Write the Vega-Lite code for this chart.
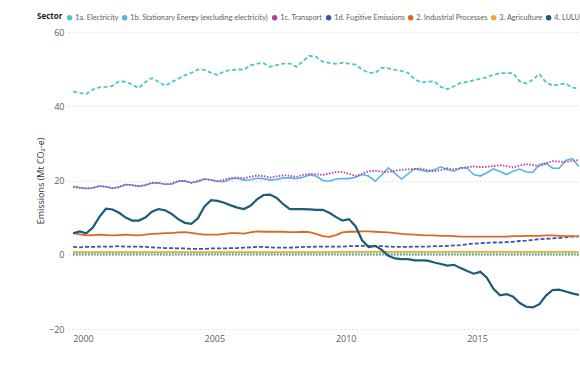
{
  "$schema": "https://vega.github.io/schema/vega-lite/v6.json",
  "width": 512,
  "height": 297,
  "autosize": "none",
  "padding": {"left": 68, "top": 32, "right": 0, "bottom": 37},
  "background": "white",
  "config": {"font": "Open Sans", "view": {"stroke": null}},
  "datasets": {
    "elec": [
      {"t":1999.625,"v":44.0},{"t":1999.875,"v":43.6},{"t":2000.125,"v":43.3},{"t":2000.375,"v":44.5},{"t":2000.625,"v":45.1},{"t":2000.875,"v":45.2},{"t":2001.125,"v":45.5},{"t":2001.375,"v":46.7},{"t":2001.625,"v":46.6},{"t":2001.875,"v":45.8},
      {"t":2002.125,"v":44.9},{"t":2002.375,"v":46.5},{"t":2002.625,"v":47.6},{"t":2002.875,"v":46.6},{"t":2003.125,"v":45.5},{"t":2003.375,"v":46.5},{"t":2003.625,"v":47.4},{"t":2003.875,"v":48.3},{"t":2004.125,"v":49.0},{"t":2004.375,"v":49.9},
      {"t":2004.625,"v":49.8},{"t":2004.875,"v":49.0},{"t":2005.125,"v":48.4},{"t":2005.375,"v":49.4},{"t":2005.625,"v":49.8},{"t":2005.875,"v":49.9},{"t":2006.125,"v":49.9},{"t":2006.375,"v":51.0},{"t":2006.625,"v":51.5},{"t":2006.875,"v":51.6},
      {"t":2007.125,"v":50.6},{"t":2007.375,"v":51.1},{"t":2007.625,"v":51.5},{"t":2007.875,"v":51.5},{"t":2008.125,"v":50.6},{"t":2008.375,"v":52.2},{"t":2008.625,"v":53.6},{"t":2008.875,"v":53.3},{"t":2009.125,"v":52.0},{"t":2009.375,"v":51.7},
      {"t":2009.625,"v":51.4},{"t":2009.875,"v":51.7},{"t":2010.125,"v":51.5},{"t":2010.375,"v":51.2},{"t":2010.625,"v":49.9},{"t":2010.875,"v":49.0},{"t":2011.125,"v":49.0},{"t":2011.375,"v":50.4},{"t":2011.625,"v":50.2},{"t":2011.875,"v":49.8},
      {"t":2012.125,"v":49.5},{"t":2012.375,"v":49.0},{"t":2012.625,"v":47.3},{"t":2012.875,"v":46.4},{"t":2013.125,"v":46.6},{"t":2013.375,"v":46.7},{"t":2013.625,"v":45.2},{"t":2013.875,"v":44.6},{"t":2014.125,"v":45.4},{"t":2014.375,"v":46.3},
      {"t":2014.625,"v":46.6},{"t":2014.875,"v":47.0},{"t":2015.125,"v":47.4},{"t":2015.375,"v":47.8},{"t":2015.625,"v":48.5},{"t":2015.875,"v":48.9},{"t":2016.125,"v":48.9},{"t":2016.375,"v":48.9},{"t":2016.625,"v":46.7},{"t":2016.875,"v":46.1},
      {"t":2017.125,"v":47.2},{"t":2017.375,"v":48.7},{"t":2017.625,"v":46.4},{"t":2017.875,"v":45.6},{"t":2018.125,"v":45.9},{"t":2018.375,"v":46.1},{"t":2018.625,"v":45.0},{"t":2018.875,"v":44.8}
    ],
    "stat": [
      {"t":1999.625,"v":18.4},{"t":1999.875,"v":18.1},{"t":2000.125,"v":17.9},{"t":2000.375,"v":18.0},{"t":2000.625,"v":18.5},{"t":2000.875,"v":18.3},{"t":2001.125,"v":17.9},{"t":2001.375,"v":18.2},{"t":2001.625,"v":18.9},{"t":2001.875,"v":18.8},
      {"t":2002.125,"v":18.5},{"t":2002.375,"v":18.7},{"t":2002.625,"v":19.3},{"t":2002.875,"v":19.4},{"t":2003.125,"v":19.0},{"t":2003.375,"v":19.0},{"t":2003.625,"v":19.8},{"t":2003.875,"v":19.9},{"t":2004.125,"v":19.4},{"t":2004.375,"v":19.7},
      {"t":2004.625,"v":20.4},{"t":2004.875,"v":20.2},{"t":2005.125,"v":19.8},{"t":2005.375,"v":19.7},{"t":2005.625,"v":20.4},{"t":2005.875,"v":20.6},{"t":2006.125,"v":20.1},{"t":2006.375,"v":20.2},{"t":2006.625,"v":20.6},{"t":2006.875,"v":20.5},
      {"t":2007.125,"v":20.1},{"t":2007.375,"v":20.3},{"t":2007.625,"v":20.7},{"t":2007.875,"v":20.7},{"t":2008.125,"v":20.5},{"t":2008.375,"v":20.9},{"t":2008.625,"v":21.5},{"t":2008.875,"v":21.2},{"t":2009.125,"v":20.0},{"t":2009.375,"v":19.8},
      {"t":2009.625,"v":20.4},{"t":2009.875,"v":20.5},{"t":2010.125,"v":20.5},{"t":2010.375,"v":20.9},{"t":2010.625,"v":21.6},{"t":2010.875,"v":21.2},{"t":2011.125,"v":19.8},{"t":2011.375,"v":21.5},{"t":2011.625,"v":23.4},{"t":2011.875,"v":21.9},
      {"t":2012.125,"v":20.4},{"t":2012.375,"v":21.8},{"t":2012.625,"v":23.2},{"t":2012.875,"v":22.8},{"t":2013.125,"v":22.4},{"t":2013.375,"v":22.9},{"t":2013.625,"v":23.7},{"t":2013.875,"v":22.9},{"t":2014.125,"v":22.5},{"t":2014.375,"v":23.5},
      {"t":2014.625,"v":23.3},{"t":2014.875,"v":21.6},{"t":2015.125,"v":21.2},{"t":2015.375,"v":22.1},{"t":2015.625,"v":23.1},{"t":2015.875,"v":22.4},{"t":2016.125,"v":21.6},{"t":2016.375,"v":22.5},{"t":2016.625,"v":23.1},{"t":2016.875,"v":22.3},
      {"t":2017.125,"v":22.2},{"t":2017.375,"v":24.3},{"t":2017.625,"v":24.6},{"t":2017.875,"v":23.3},{"t":2018.125,"v":23.3},{"t":2018.375,"v":25.4},{"t":2018.625,"v":25.9},{"t":2018.875,"v":23.8}
    ],
    "trans": [
      {"t":1999.625,"v":18.3},{"t":1999.875,"v":18.0},{"t":2000.125,"v":17.8},{"t":2000.375,"v":18.0},{"t":2000.625,"v":18.5},{"t":2000.875,"v":18.3},{"t":2001.125,"v":17.9},{"t":2001.375,"v":18.3},{"t":2001.625,"v":18.9},{"t":2001.875,"v":18.7},
      {"t":2002.125,"v":18.4},{"t":2002.375,"v":18.8},{"t":2002.625,"v":19.4},{"t":2002.875,"v":19.3},{"t":2003.125,"v":19.0},{"t":2003.375,"v":19.2},{"t":2003.625,"v":19.9},{"t":2003.875,"v":19.8},{"t":2004.125,"v":19.4},{"t":2004.375,"v":19.9},
      {"t":2004.625,"v":20.4},{"t":2004.875,"v":20.1},{"t":2005.125,"v":19.8},{"t":2005.375,"v":20.2},{"t":2005.625,"v":20.7},{"t":2005.875,"v":20.8},{"t":2006.125,"v":20.6},{"t":2006.375,"v":21.0},{"t":2006.625,"v":21.3},{"t":2006.875,"v":21.2},
      {"t":2007.125,"v":20.8},{"t":2007.375,"v":21.1},{"t":2007.625,"v":21.4},{"t":2007.875,"v":21.3},{"t":2008.125,"v":21.0},{"t":2008.375,"v":21.5},{"t":2008.625,"v":21.8},{"t":2008.875,"v":21.7},{"t":2009.125,"v":21.5},{"t":2009.375,"v":21.9},
      {"t":2009.625,"v":22.3},{"t":2009.875,"v":22.3},{"t":2010.125,"v":21.8},{"t":2010.375,"v":21.2},{"t":2010.625,"v":21.8},{"t":2010.875,"v":22.5},{"t":2011.125,"v":22.6},{"t":2011.375,"v":22.4},{"t":2011.625,"v":22.3},{"t":2011.875,"v":22.6},
      {"t":2012.125,"v":22.9},{"t":2012.375,"v":23.0},{"t":2012.625,"v":23.1},{"t":2012.875,"v":23.2},{"t":2013.125,"v":22.8},{"t":2013.375,"v":22.5},{"t":2013.625,"v":22.8},{"t":2013.875,"v":23.3},{"t":2014.125,"v":23.0},{"t":2014.375,"v":23.2},
      {"t":2014.625,"v":23.6},{"t":2014.875,"v":23.8},{"t":2015.125,"v":23.6},{"t":2015.375,"v":23.7},{"t":2015.625,"v":23.9},{"t":2015.875,"v":24.1},{"t":2016.125,"v":23.9},{"t":2016.375,"v":23.5},{"t":2016.625,"v":24.0},{"t":2016.875,"v":24.4},
      {"t":2017.125,"v":24.2},{"t":2017.375,"v":23.9},{"t":2017.625,"v":24.6},{"t":2017.875,"v":25.2},{"t":2018.125,"v":25.1},{"t":2018.375,"v":25.0},{"t":2018.625,"v":25.3},{"t":2018.875,"v":25.5}
    ],
    "fug": [
      {"t":1999.625,"v":2.1},{"t":1999.875,"v":2.0},{"t":2000.125,"v":2.1},{"t":2000.375,"v":2.1},{"t":2000.625,"v":2.2},{"t":2000.875,"v":2.2},{"t":2001.125,"v":2.2},{"t":2001.375,"v":2.3},{"t":2001.625,"v":2.2},{"t":2001.875,"v":2.2},
      {"t":2002.125,"v":2.2},{"t":2002.375,"v":2.1},{"t":2002.625,"v":2.0},{"t":2002.875,"v":1.9},{"t":2003.125,"v":1.8},{"t":2003.375,"v":1.8},{"t":2003.625,"v":1.7},{"t":2003.875,"v":1.7},{"t":2004.125,"v":1.6},{"t":2004.375,"v":1.6},
      {"t":2004.625,"v":1.6},{"t":2004.875,"v":1.7},{"t":2005.125,"v":1.7},{"t":2005.375,"v":1.7},{"t":2005.625,"v":1.8},{"t":2005.875,"v":1.8},{"t":2006.125,"v":1.9},{"t":2006.375,"v":2.0},{"t":2006.625,"v":2.1},{"t":2006.875,"v":2.1},
      {"t":2007.125,"v":2.0},{"t":2007.375,"v":1.9},{"t":2007.625,"v":1.9},{"t":2007.875,"v":1.9},{"t":2008.125,"v":2.0},{"t":2008.375,"v":2.1},{"t":2008.625,"v":2.1},{"t":2008.875,"v":2.2},{"t":2009.125,"v":2.2},{"t":2009.375,"v":2.2},
      {"t":2009.625,"v":2.2},{"t":2009.875,"v":2.2},{"t":2010.125,"v":2.3},{"t":2010.375,"v":2.3},{"t":2010.625,"v":2.4},{"t":2010.875,"v":2.4},{"t":2011.125,"v":2.3},{"t":2011.375,"v":2.3},{"t":2011.625,"v":2.2},{"t":2011.875,"v":2.1},
      {"t":2012.125,"v":2.1},{"t":2012.375,"v":2.1},{"t":2012.625,"v":2.2},{"t":2012.875,"v":2.2},{"t":2013.125,"v":2.2},{"t":2013.375,"v":2.3},{"t":2013.625,"v":2.3},{"t":2013.875,"v":2.4},{"t":2014.125,"v":2.5},{"t":2014.375,"v":2.6},
      {"t":2014.625,"v":2.8},{"t":2014.875,"v":3.0},{"t":2015.125,"v":3.1},{"t":2015.375,"v":3.2},{"t":2015.625,"v":3.3},{"t":2015.875,"v":3.3},{"t":2016.125,"v":3.4},{"t":2016.375,"v":3.5},{"t":2016.625,"v":3.7},{"t":2016.875,"v":3.8},
      {"t":2017.125,"v":4.0},{"t":2017.375,"v":4.2},{"t":2017.625,"v":4.3},{"t":2017.875,"v":4.4},{"t":2018.125,"v":4.5},{"t":2018.375,"v":4.7},{"t":2018.625,"v":4.9},{"t":2018.875,"v":5.0}
    ],
    "ind": [
      {"t":1999.625,"v":5.8},{"t":1999.875,"v":5.5},{"t":2000.125,"v":5.2},{"t":2000.375,"v":5.3},{"t":2000.625,"v":5.4},{"t":2000.875,"v":5.3},{"t":2001.125,"v":5.2},{"t":2001.375,"v":5.3},{"t":2001.625,"v":5.4},{"t":2001.875,"v":5.3},
      {"t":2002.125,"v":5.2},{"t":2002.375,"v":5.4},{"t":2002.625,"v":5.6},{"t":2002.875,"v":5.7},{"t":2003.125,"v":5.8},{"t":2003.375,"v":5.8},{"t":2003.625,"v":6.0},{"t":2003.875,"v":6.1},{"t":2004.125,"v":5.9},{"t":2004.375,"v":5.6},
      {"t":2004.625,"v":5.4},{"t":2004.875,"v":5.4},{"t":2005.125,"v":5.4},{"t":2005.375,"v":5.6},{"t":2005.625,"v":5.8},{"t":2005.875,"v":5.8},{"t":2006.125,"v":5.7},{"t":2006.375,"v":6.0},{"t":2006.625,"v":6.3},{"t":2006.875,"v":6.2},
      {"t":2007.125,"v":6.2},{"t":2007.375,"v":6.2},{"t":2007.625,"v":6.2},{"t":2007.875,"v":6.1},{"t":2008.125,"v":6.1},{"t":2008.375,"v":6.2},{"t":2008.625,"v":6.1},{"t":2008.875,"v":5.6},{"t":2009.125,"v":5.0},{"t":2009.375,"v":4.8},
      {"t":2009.625,"v":5.3},{"t":2009.875,"v":6.0},{"t":2010.125,"v":6.2},{"t":2010.375,"v":6.2},{"t":2010.625,"v":6.3},{"t":2010.875,"v":6.3},{"t":2011.125,"v":6.2},{"t":2011.375,"v":6.1},{"t":2011.625,"v":6.0},{"t":2011.875,"v":5.8},
      {"t":2012.125,"v":5.6},{"t":2012.375,"v":5.5},{"t":2012.625,"v":5.4},{"t":2012.875,"v":5.3},{"t":2013.125,"v":5.2},{"t":2013.375,"v":5.2},{"t":2013.625,"v":5.1},{"t":2013.875,"v":5.1},{"t":2014.125,"v":5.0},{"t":2014.375,"v":4.9},
      {"t":2014.625,"v":4.9},{"t":2014.875,"v":4.9},{"t":2015.125,"v":4.9},{"t":2015.375,"v":4.9},{"t":2015.625,"v":4.9},{"t":2015.875,"v":4.9},{"t":2016.125,"v":4.9},{"t":2016.375,"v":5.0},{"t":2016.625,"v":5.0},{"t":2016.875,"v":5.1},
      {"t":2017.125,"v":5.1},{"t":2017.375,"v":5.1},{"t":2017.625,"v":5.2},{"t":2017.875,"v":5.2},{"t":2018.125,"v":5.1},{"t":2018.375,"v":5.0},{"t":2018.625,"v":5.0},{"t":2018.875,"v":4.9}
    ],
    "agri": [
      {"t":1999.625,"v":0.7},{"t":1999.875,"v":0.7},{"t":2000.125,"v":0.7},{"t":2000.375,"v":0.7},{"t":2000.625,"v":0.7},{"t":2000.875,"v":0.7},{"t":2001.125,"v":0.7},{"t":2001.375,"v":0.7},{"t":2001.625,"v":0.7},{"t":2001.875,"v":0.7},
      {"t":2002.125,"v":0.7},{"t":2002.375,"v":0.7},{"t":2002.625,"v":0.7},{"t":2002.875,"v":0.7},{"t":2003.125,"v":0.7},{"t":2003.375,"v":0.7},{"t":2003.625,"v":0.7},{"t":2003.875,"v":0.7},{"t":2004.125,"v":0.7},{"t":2004.375,"v":0.7},
      {"t":2004.625,"v":0.7},{"t":2004.875,"v":0.7},{"t":2005.125,"v":0.7},{"t":2005.375,"v":0.7},{"t":2005.625,"v":0.7},{"t":2005.875,"v":0.7},{"t":2006.125,"v":0.7},{"t":2006.375,"v":0.7},{"t":2006.625,"v":0.7},{"t":2006.875,"v":0.7},
      {"t":2007.125,"v":0.7},{"t":2007.375,"v":0.7},{"t":2007.625,"v":0.7},{"t":2007.875,"v":0.7},{"t":2008.125,"v":0.7},{"t":2008.375,"v":0.7},{"t":2008.625,"v":0.7},{"t":2008.875,"v":0.7},{"t":2009.125,"v":0.7},{"t":2009.375,"v":0.7},
      {"t":2009.625,"v":0.8},{"t":2009.875,"v":0.8},{"t":2010.125,"v":0.8},{"t":2010.375,"v":0.8},{"t":2010.625,"v":0.8},{"t":2010.875,"v":0.8},{"t":2011.125,"v":0.8},{"t":2011.375,"v":0.8},{"t":2011.625,"v":0.8},{"t":2011.875,"v":0.8},
      {"t":2012.125,"v":0.8},{"t":2012.375,"v":0.8},{"t":2012.625,"v":0.8},{"t":2012.875,"v":0.8},{"t":2013.125,"v":0.8},{"t":2013.375,"v":0.8},{"t":2013.625,"v":0.8},{"t":2013.875,"v":0.8},{"t":2014.125,"v":0.8},{"t":2014.375,"v":0.8},
      {"t":2014.625,"v":0.8},{"t":2014.875,"v":0.8},{"t":2015.125,"v":0.8},{"t":2015.375,"v":0.8},{"t":2015.625,"v":0.8},{"t":2015.875,"v":0.8},{"t":2016.125,"v":0.8},{"t":2016.375,"v":0.8},{"t":2016.625,"v":0.8},{"t":2016.875,"v":0.8},
      {"t":2017.125,"v":0.8},{"t":2017.375,"v":0.8},{"t":2017.625,"v":0.8},{"t":2017.875,"v":0.8},{"t":2018.125,"v":0.8},{"t":2018.375,"v":0.8},{"t":2018.625,"v":0.8},{"t":2018.875,"v":0.8}
    ],
    "lulu": [
      {"t":1999.625,"v":5.8},{"t":1999.875,"v":6.3},{"t":2000.125,"v":5.8},{"t":2000.375,"v":7.3},{"t":2000.625,"v":10.2},{"t":2000.875,"v":12.4},{"t":2001.125,"v":12.2},{"t":2001.375,"v":11.3},{"t":2001.625,"v":10.0},{"t":2001.875,"v":9.2},
      {"t":2002.125,"v":9.2},{"t":2002.375,"v":10.0},{"t":2002.625,"v":11.6},{"t":2002.875,"v":12.3},{"t":2003.125,"v":12.0},{"t":2003.375,"v":11.0},{"t":2003.625,"v":9.6},{"t":2003.875,"v":8.6},{"t":2004.125,"v":8.3},{"t":2004.375,"v":9.8},
      {"t":2004.625,"v":13.0},{"t":2004.875,"v":14.7},{"t":2005.125,"v":14.5},{"t":2005.375,"v":14.0},{"t":2005.625,"v":13.3},{"t":2005.875,"v":12.7},{"t":2006.125,"v":12.3},{"t":2006.375,"v":13.2},{"t":2006.625,"v":14.9},{"t":2006.875,"v":16.1},
      {"t":2007.125,"v":16.2},{"t":2007.375,"v":15.3},{"t":2007.625,"v":13.6},{"t":2007.875,"v":12.3},{"t":2008.125,"v":12.3},{"t":2008.375,"v":12.3},{"t":2008.625,"v":12.2},{"t":2008.875,"v":12.1},{"t":2009.125,"v":12.1},{"t":2009.375,"v":11.3},
      {"t":2009.625,"v":10.2},{"t":2009.875,"v":9.2},{"t":2010.125,"v":9.6},{"t":2010.375,"v":7.7},{"t":2010.625,"v":3.9},{"t":2010.875,"v":2.1},{"t":2011.125,"v":2.4},{"t":2011.375,"v":1.3},{"t":2011.625,"v":-0.3},{"t":2011.875,"v":-1.0},
      {"t":2012.125,"v":-1.2},{"t":2012.375,"v":-1.2},{"t":2012.625,"v":-1.5},{"t":2012.875,"v":-1.5},{"t":2013.125,"v":-1.6},{"t":2013.375,"v":-2.1},{"t":2013.625,"v":-2.5},{"t":2013.875,"v":-2.9},{"t":2014.125,"v":-2.7},{"t":2014.375,"v":-3.6},
      {"t":2014.625,"v":-4.4},{"t":2014.875,"v":-5.1},{"t":2015.125,"v":-4.6},{"t":2015.375,"v":-6.2},{"t":2015.625,"v":-9.2},{"t":2015.875,"v":-10.9},{"t":2016.125,"v":-10.6},{"t":2016.375,"v":-11.3},{"t":2016.625,"v":-13.0},{"t":2016.875,"v":-14.0},
      {"t":2017.125,"v":-14.2},{"t":2017.375,"v":-13.3},{"t":2017.625,"v":-11.0},{"t":2017.875,"v":-9.5},{"t":2018.125,"v":-9.4},{"t":2018.375,"v":-9.9},{"t":2018.625,"v":-10.4},{"t":2018.875,"v":-10.8}
    ],
    "waste": [
      {"t":1999.625,"v":0.1},{"t":1999.875,"v":0.1},{"t":2000.125,"v":0.1},{"t":2000.375,"v":0.1},{"t":2000.625,"v":0.1},{"t":2000.875,"v":0.1},{"t":2001.125,"v":0.1},{"t":2001.375,"v":0.1},{"t":2001.625,"v":0.1},{"t":2001.875,"v":0.1},
      {"t":2002.125,"v":0.1},{"t":2002.375,"v":0.1},{"t":2002.625,"v":0.1},{"t":2002.875,"v":0.1},{"t":2003.125,"v":0.1},{"t":2003.375,"v":0.1},{"t":2003.625,"v":0.1},{"t":2003.875,"v":0.1},{"t":2004.125,"v":0.1},{"t":2004.375,"v":0.1},
      {"t":2004.625,"v":0.1},{"t":2004.875,"v":0.1},{"t":2005.125,"v":0.1},{"t":2005.375,"v":0.1},{"t":2005.625,"v":0.1},{"t":2005.875,"v":0.1},{"t":2006.125,"v":0.1},{"t":2006.375,"v":0.1},{"t":2006.625,"v":0.1},{"t":2006.875,"v":0.1},
      {"t":2007.125,"v":0.1},{"t":2007.375,"v":0.1},{"t":2007.625,"v":0.1},{"t":2007.875,"v":0.1},{"t":2008.125,"v":0.1},{"t":2008.375,"v":0.1},{"t":2008.625,"v":0.1},{"t":2008.875,"v":0.1},{"t":2009.125,"v":0.1},{"t":2009.375,"v":0.1},
      {"t":2009.625,"v":0.1},{"t":2009.875,"v":0.1},{"t":2010.125,"v":0.1},{"t":2010.375,"v":0.1},{"t":2010.625,"v":0.1},{"t":2010.875,"v":0.1},{"t":2011.125,"v":0.1},{"t":2011.375,"v":0.1},{"t":2011.625,"v":0.1},{"t":2011.875,"v":0.1},
      {"t":2012.125,"v":0.1},{"t":2012.375,"v":0.1},{"t":2012.625,"v":0.1},{"t":2012.875,"v":0.1},{"t":2013.125,"v":0.1},{"t":2013.375,"v":0.1},{"t":2013.625,"v":0.1},{"t":2013.875,"v":0.1},{"t":2014.125,"v":0.1},{"t":2014.375,"v":0.1},
      {"t":2014.625,"v":0.1},{"t":2014.875,"v":0.1},{"t":2015.125,"v":0.1},{"t":2015.375,"v":0.1},{"t":2015.625,"v":0.1},{"t":2015.875,"v":0.1},{"t":2016.125,"v":0.1},{"t":2016.375,"v":0.1},{"t":2016.625,"v":0.1},{"t":2016.875,"v":0.1},
      {"t":2017.125,"v":0.1},{"t":2017.375,"v":0.1},{"t":2017.625,"v":0.1},{"t":2017.875,"v":0.1},{"t":2018.125,"v":0.1},{"t":2018.375,"v":0.1},{"t":2018.625,"v":0.1},{"t":2018.875,"v":0.1}
    ]
  },
  "encoding": {
    "x": {
      "field": "t", "type": "quantitative",
      "scale": {"domain": [1999.43, 2018.92], "nice": false, "zero": false},
      "axis": {"values": [2000, 2005, 2010, 2015], "format": "d", "grid": false, "domain": false, "ticks": false, "labelFontSize": 9, "labelColor": "#605E5C", "labelPadding": 5, "labelFlush": false, "title": null}
    },
    "y": {
      "field": "v", "type": "quantitative",
      "scale": {"domain": [-20, 60], "nice": false},
      "axis": {"values": [-20, 0, 20, 40, 60], "grid": true, "gridDash": [1, 3], "gridColor": "#CCCCCC", "domain": false, "ticks": false, "labelFontSize": 9, "labelColor": "#605E5C", "labelPadding": 4, "title": "Emissions (Mt CO₂-e)", "titleFontSize": 9, "titleColor": "#333333", "titleFontWeight": "normal", "titlePadding": 3}
    }
  },
  "layer": [
    {
      "data": {"name": "waste"},
      "mark": {"type": "line", "strokeWidth": 2.2, "strokeDash": [1.5, 1.5]},
      "encoding": {
        "color": {
          "datum": "5. Waste", "type": "nominal",
          "scale": {
            "domain": ["1a. Electricity", "1b. Stationary Energy (excluding electricity)", "1c. Transport", "1d. Fugitive Emissions", "2. Industrial Processes", "3. Agriculture", "4. LULUCF", "5. Waste"],
            "range": ["#4FC6C6", "#5AB3EE", "#B4449E", "#3E4FC0", "#E0681E", "#F6A623", "#1B5D79", "#2E9E8A"]
          },
          "legend": {
            "title": "Sector", "orient": "none", "legendX": -31, "legendY": -18, "direction": "horizontal",
            "titleOrient": "left", "titleFontSize": 8, "titleColor": "#252423", "titleFontWeight": "bold", "titlePadding": 3,
            "symbolType": "circle", "symbolSize": 30, "symbolStrokeWidth": 0,
            "labelFont": "Lato", "labelFontSize": 7.3, "labelColor": "#605E5C", "labelOffset": 2, "columnPadding": 2, "labelLimit": 300,
            "encode": {"symbols": {"update": {"fill": {"scale": "color", "field": "value"}, "strokeWidth": {"value": 0}}}}
          }
        }
      }
    },
    {"data": {"name": "agri"}, "mark": {"type": "line", "strokeWidth": 1.8}, "encoding": {"color": {"datum": "3. Agriculture", "type": "nominal"}}},
    {"data": {"name": "fug"}, "mark": {"type": "line", "strokeWidth": 1.8, "strokeDash": [4, 2]}, "encoding": {"color": {"datum": "1d. Fugitive Emissions", "type": "nominal"}}},
    {"data": {"name": "ind"}, "mark": {"type": "line", "strokeWidth": 1.8}, "encoding": {"color": {"datum": "2. Industrial Processes", "type": "nominal"}}},
    {"data": {"name": "stat"}, "mark": {"type": "line", "strokeWidth": 1.6}, "encoding": {"color": {"datum": "1b. Stationary Energy (excluding electricity)", "type": "nominal"}}},
    {"data": {"name": "trans"}, "mark": {"type": "line", "strokeWidth": 1.8, "strokeDash": [1.5, 1.5]}, "encoding": {"color": {"datum": "1c. Transport", "type": "nominal"}}},
    {"data": {"name": "elec"}, "mark": {"type": "line", "strokeWidth": 1.8, "strokeDash": [4, 2.5]}, "encoding": {"color": {"datum": "1a. Electricity", "type": "nominal"}}},
    {"data": {"name": "lulu"}, "mark": {"type": "line", "strokeWidth": 2.2}, "encoding": {"color": {"datum": "4. LULUCF", "type": "nominal"}}}
  ]
}
